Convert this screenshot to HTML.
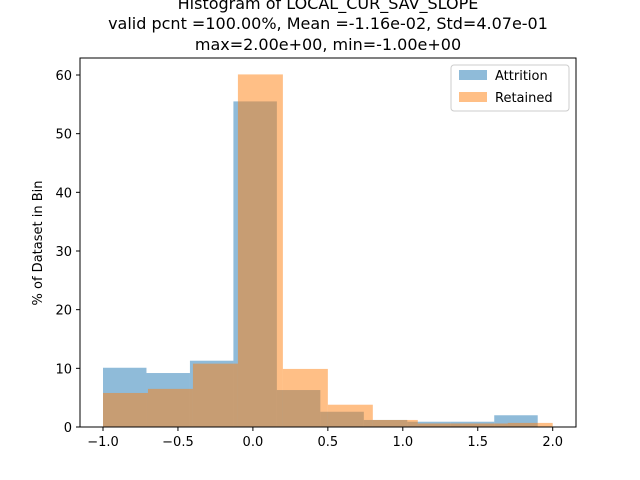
<!DOCTYPE html>
<html><head><meta charset="utf-8"><style>
body{margin:0;background:#fff;}
svg{display:block;font-family:"DejaVu Sans","Liberation Sans",sans-serif;}
</style></head><body>
<svg id="chart" width="640" height="480">
<text x="328" y="9" text-anchor="middle" font-size="16">Histogram of LOCAL_CUR_SAV_SLOPE</text>
<text x="328" y="29" text-anchor="middle" font-size="16">valid pcnt =100.00%, Mean =-1.16e-02, Std=4.07e-01</text>
<text x="328" y="50" text-anchor="middle" font-size="16">max=2.00e+00, min=-1.00e+00</text>
<g id="bars"></g>
<rect x="80" y="58" width="496" height="369" fill="none" stroke="#000" stroke-width="1"/>
<g id="axes"></g>
<text transform="translate(42,243) rotate(-90)" text-anchor="middle" font-size="13">% of Dataset in Bin</text>
<g>
<rect x="451" y="65" width="118" height="46" rx="3" fill="#fff" stroke="#ccc"/>
<rect x="459" y="70" width="28" height="10" fill="#1f77b4" fill-opacity="0.5"/>
<text x="495" y="80" font-size="13">Attrition</text>
<rect x="459" y="92" width="28" height="10" fill="#ff7f0e" fill-opacity="0.5"/>
<text x="495" y="102" font-size="13">Retained</text>
</g>
</svg>
<script>
const attrEdges=[-1,-0.71,-0.42,-0.13,0.16,0.45,0.74,1.03,1.32,1.61,1.9];
const attrValues=[10.1,9.2,11.3,55.5,6.3,2.6,1.2,0.9,0.9,2.0];
const retEdges=[-1,-0.7,-0.4,-0.1,0.2,0.5,0.8,1.1,1.4,1.7,2.0];
const retValues=[5.8,6.5,10.8,60.1,9.9,3.8,1.2,0.6,0.6,0.7];
const xTicks=[-1.0,-0.5,0.0,0.5,1.0,1.5,2.0];
const yTicks=[0,10,20,30,40,50,60];
const NS="http://www.w3.org/2000/svg";
function sx(v){return 103+(v+1)*(552.7-103)/3;}
function sy(v){return 427-v*(427-75)/60;}
const bars=document.getElementById('bars');
function drawSeries(edges,vals,color,name){
  for(let i=0;i<vals.length;i++){
    const r=document.createElementNS(NS,'rect');
    r.setAttribute('x',sx(edges[i]));
    r.setAttribute('width',sx(edges[i+1])-sx(edges[i]));
    r.setAttribute('y',sy(vals[i]));
    r.setAttribute('height',sy(0)-sy(vals[i]));
    r.setAttribute('fill',color);
    r.setAttribute('fill-opacity','0.5');
    
    
    bars.appendChild(r);
  }
}
drawSeries(attrEdges,attrValues,'#1f77b4','attrition');
drawSeries(retEdges,retValues,'#ff7f0e','retained');
const axes=document.getElementById('axes');
xTicks.forEach(v=>{
  const l=document.createElementNS(NS,'line');
  l.setAttribute('x1',sx(v));l.setAttribute('x2',sx(v));
  l.setAttribute('y1',427);l.setAttribute('y2',431);
  l.setAttribute('stroke','#000');
  
  
  axes.appendChild(l);
  const t=document.createElementNS(NS,'text');
  t.setAttribute('x',sx(v));t.setAttribute('y',446);
  t.setAttribute('text-anchor','middle');t.setAttribute('font-size','13');
  t.textContent=v.toFixed(1).replace('-','\u2212');
  
  
  axes.appendChild(t);
});
yTicks.forEach(v=>{
  const l=document.createElementNS(NS,'line');
  l.setAttribute('x1',76);l.setAttribute('x2',80);
  l.setAttribute('y1',sy(v));l.setAttribute('y2',sy(v));
  l.setAttribute('stroke','#000');
  
  
  axes.appendChild(l);
  const t=document.createElementNS(NS,'text');
  t.setAttribute('x',72);t.setAttribute('y',sy(v)+5);
  t.setAttribute('text-anchor','end');t.setAttribute('font-size','13');
  t.textContent=v;
  
  
  axes.appendChild(t);
});
</script>
</body></html>
